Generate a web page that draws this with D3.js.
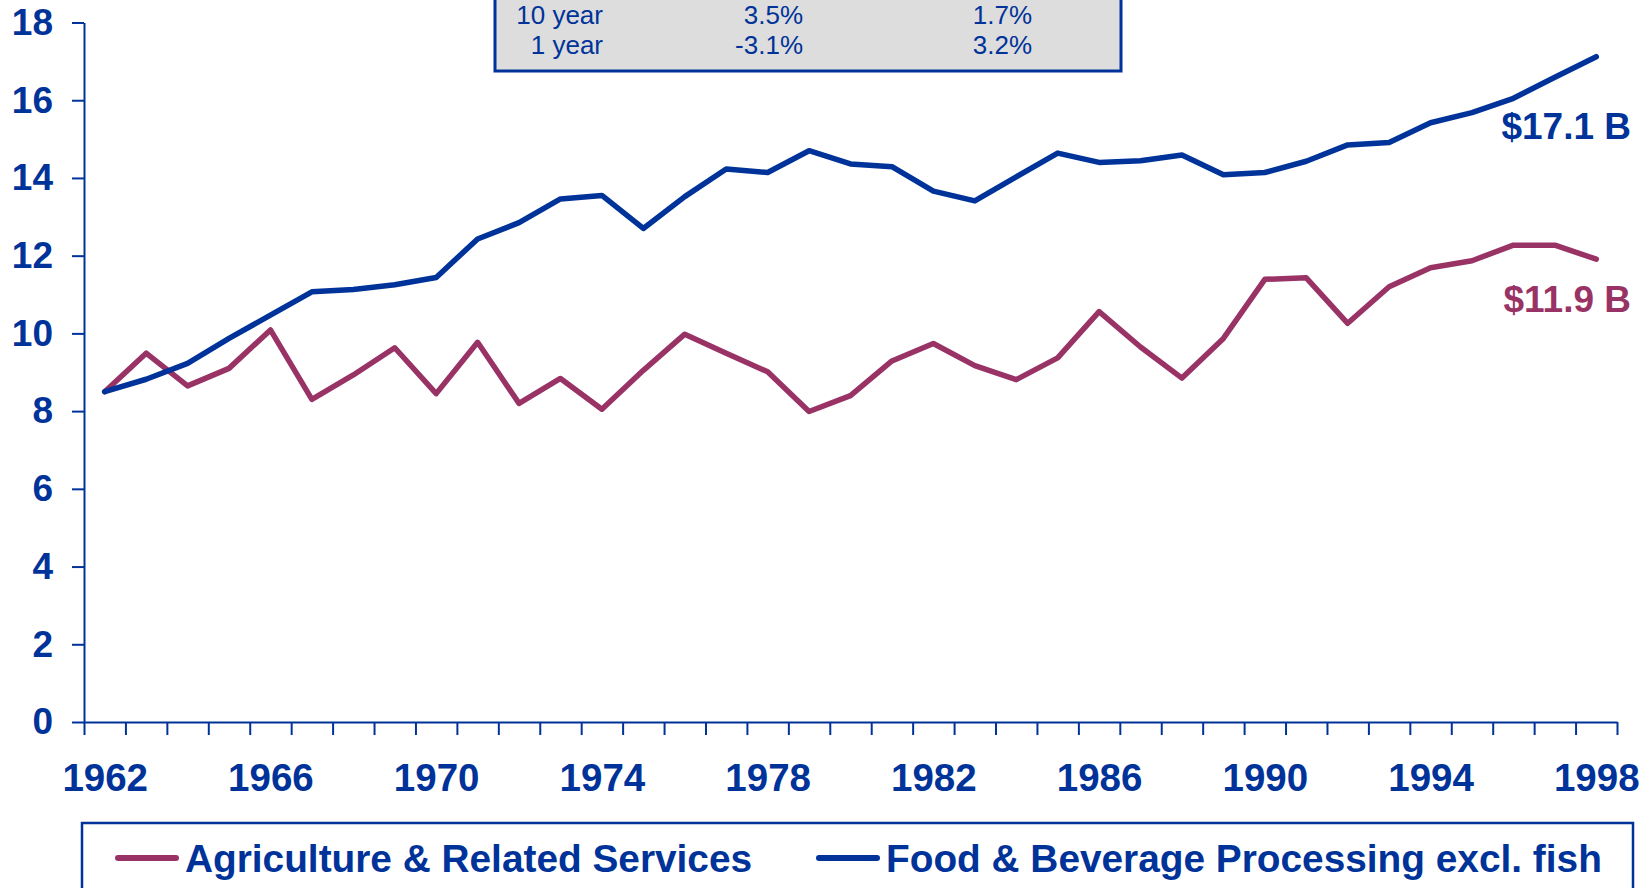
<!DOCTYPE html>
<html>
<head>
<meta charset="utf-8">
<script src="https://cdn.jsdelivr.net/npm/d3@7"></script>
<style>
  body { margin: 0; background: #fff; }
  svg { display: block; font-family: Arial, "Liberation Sans", sans-serif; }
</style>
</head>
<body>
<script>
// values in $ billions
const years = d3.range(1962, 1999);
const agriculture = [8.50, 9.49, 8.65, 9.10, 10.09, 8.30, 8.93, 9.63, 8.45, 9.77,
  8.20, 8.84, 8.05, 9.05, 9.98, 9.49, 9.01, 7.99, 8.40, 9.29,
  9.74, 9.17, 8.81, 9.37, 10.56, 9.65, 8.85, 9.87, 11.39, 11.43,
  10.26, 11.20, 11.69, 11.87, 12.27, 12.27, 11.91];
const foodBev = [8.50, 8.82, 9.23, 9.87, 10.47, 11.07, 11.13, 11.25, 11.44, 12.43,
  12.85, 13.46, 13.55, 12.70, 13.52, 14.23, 14.14, 14.70, 14.36, 14.29,
  13.66, 13.41, 14.03, 14.64, 14.40, 14.44, 14.59, 14.08, 14.14, 14.43,
  14.85, 14.91, 15.42, 15.68, 16.05, 16.59, 17.12];
const yTicks = [0, 2, 4, 6, 8, 10, 12, 14, 16, 18];
const xLabels = [1962, 1966, 1970, 1974, 1978, 1982, 1986, 1990, 1994, 1998];
const seriesNames = ["Agriculture & Related Services", "Food & Beverage Processing excl. fish"];
const endLabels = ["$11.9 B", "$17.1 B"];
const tableRows = ["10 year", "1 year"];
const tableAgri = ["3.5%", "-3.1%"];
const tableFood = ["1.7%", "3.2%"];

const width = 1652;
const height = 888;
const blue = "#003399";
const maroon = "#993366";

const svg = d3.select("body").append("svg")
  .attr("width", width)
  .attr("height", height);

const x = d3.scaleLinear().domain([1961.5, 1998.5]).range([84, 1617]);
const y = d3.scaleLinear().domain([0, 18]).range([722, 22.5]);

// growth table (top is cut off in the original)
const table = svg.append("g");
table.append("rect")
  .attr("x", 495).attr("y", -60)
  .attr("width", 626).attr("height", 131)
  .attr("fill", "#dddddd")
  .attr("stroke", blue)
  .attr("stroke-width", 3);

const rowY = [23.5, 54];
[[tableRows, 603], [tableAgri, 803], [tableFood, 1032]].forEach(([col, cx]) => {
  table.selectAll(null)
    .data(col)
    .enter().append("text")
    .attr("x", cx)
    .attr("y", (d, i) => rowY[i])
    .attr("text-anchor", "end")
    .style("font-size", "26px")
    .style("fill", blue)
    .text((d) => d);
});

// y axis
const yAxis = svg.append("g")
  .attr("transform", `translate(${x.range()[0]},0)`)
  .call(d3.axisLeft(y).tickValues(yTicks).tickSize(12).tickSizeOuter(0).tickPadding(19));

// x axis: ticks between years, labels every 4 years
const xAxis = svg.append("g")
  .attr("transform", `translate(0,${y(0)})`)
  .call(d3.axisBottom(x).tickValues(d3.range(1961.5, 1999, 1)).tickSize(13).tickSizeOuter(0).tickFormat(""));

const xLab = svg.append("g")
  .attr("transform", `translate(0,${y(0)})`)
  .call(d3.axisBottom(x).tickValues(xLabels).tickSize(0).tickPadding(42).tickFormat(d3.format("d")));
xLab.select(".domain").remove();

[yAxis, xAxis].forEach((g) => {
  g.selectAll("path, line").attr("stroke", blue).attr("stroke-width", 2);
});
[[yAxis, 37], [xLab, 38.5]].forEach(([g, fs]) => {
  g.selectAll("text")
    .attr("fill", blue)
    .style("font-size", fs + "px")
    .style("font-weight", "bold")
    .style("font-family", "Arial, 'Liberation Sans', sans-serif");
});

// lines
const line = d3.line()
  .x((d, i) => x(years[i]))
  .y((d) => y(d));

[[agriculture, maroon], [foodBev, blue]].forEach(([vals, c]) => {
  svg.append("path")
    .datum(vals)
    .attr("fill", "none")
    .attr("stroke", c)
    .attr("stroke-width", 5.5)
    .attr("stroke-linejoin", "round")
    .attr("stroke-linecap", "round")
    .attr("d", line);
});

// end labels
svg.append("text")
  .attr("x", 1631).attr("y", 312)
  .attr("text-anchor", "end")
  .style("font-size", "37px").style("font-weight", "bold")
  .style("fill", maroon)
  .text(endLabels[0]);
svg.append("text")
  .attr("x", 1631).attr("y", 138.5)
  .attr("text-anchor", "end")
  .style("font-size", "37px").style("font-weight", "bold")
  .style("fill", blue)
  .text(endLabels[1]);

// legend
const legend = svg.append("g");
legend.append("rect")
  .attr("x", 82).attr("y", 823)
  .attr("width", 1551).attr("height", 120)
  .attr("fill", "none")
  .attr("stroke", blue)
  .attr("stroke-width", 2.5);

const legX = [118, 819];
seriesNames.forEach((name, i) => {
  legend.append("line")
    .attr("x1", legX[i]).attr("x2", legX[i] + 58)
    .attr("y1", 858).attr("y2", 858)
    .attr("stroke", i === 0 ? maroon : blue)
    .attr("stroke-width", 6)
    .attr("stroke-linecap", "round");
  legend.append("text")
    .attr("x", legX[i] + 67).attr("y", 872)
    .style("font-size", "38.8px").style("font-weight", "bold")
    .style("fill", blue)
    .text(name);
});
</script>
</body>
</html>
